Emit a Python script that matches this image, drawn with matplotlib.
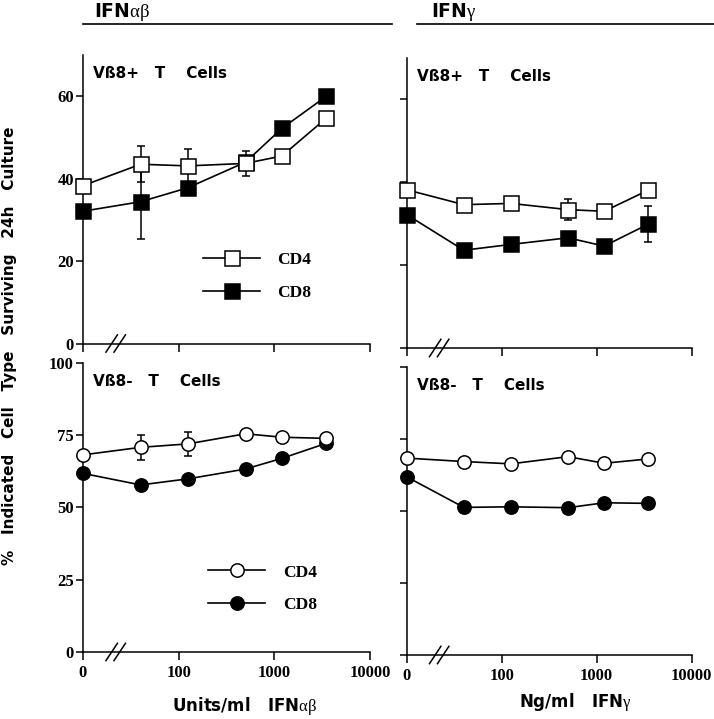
import numpy as np
import matplotlib
matplotlib.use('Agg')
import matplotlib.pyplot as plt
from matplotlib.lines import Line2D
from matplotlib.ticker import NullLocator

# doses (0 = no IFN, drawn at the left end of the log axis)
dose=[0,40,125,500,1200,3500]
xtick_vals=[10,100,1000,10000]
xtick_labels=['0','100','1000','10000']

# IFN ab, Vb8+ (% surviving)
ab_pos_cd4=[38.3,43.5,43.1,43.7,45.5,54.7]
ab_pos_cd4_err=[0,4.4,4.0,3.0,0,0]
ab_pos_cd8=[32.1,34.4,37.8,44.0,52.2,60.0]
ab_pos_cd8_err=[0,9.1,0,0,0,0]
# IFN g, Vb8+
g_pos_cd4=[38.2,34.6,34.9,33.4,33.0,38.1]
g_pos_cd4_err=[0,0,0,2.5,0,0]
g_pos_cd8=[32.2,23.6,25.0,26.6,24.6,29.9]
g_pos_cd8_err=[0,0,0,0,0,4.3]
# IFN ab, Vb8-
ab_neg_cd4=[68.2,70.8,72.0,75.5,74.3,73.9]
ab_neg_cd4_err=[0,4.3,4.2,0,0,0]
ab_neg_cd8=[61.8,57.8,59.9,63.3,67.0,72.2]
ab_neg_cd8_err=[0,0,0,0,0,0]
# IFN g, Vb8-
g_neg_cd4=[68.3,67.1,66.3,68.8,66.5,68.0]
g_neg_cd4_err=[0,0,0,0,0,0]
g_neg_cd8=[61.8,51.2,51.4,51.1,52.8,52.6]
g_neg_cd8_err=[0,0,0,0,0,0]

plt.rcParams['mathtext.fontset']='custom'
plt.rcParams['mathtext.rm']='Liberation Serif'
plt.rcParams['mathtext.it']='Liberation Serif:italic'
plt.rcParams['mathtext.bf']='Liberation Serif:bold'

SANS='DejaVu Sans'
SERIF='Liberation Serif'
x=np.where(np.array(dose)==0,10,dose)

fig=plt.figure(figsize=(7.14,7.19),dpi=100)
ax_tl=fig.add_axes([0.1162,0.5222,0.402,0.4013])
ax_tr=fig.add_axes([0.5696,0.516,0.399,0.4033])
ax_bl=fig.add_axes([0.1162,0.0932,0.402,0.402])
ax_br=fig.add_axes([0.5696,0.089,0.399,0.401])

def panel(ax,cd4,cd4e,cd8,cd8e,mk,ms,ymax,yticks,title,ylab,xlab,leg=None):
    for y,e,fc,z in ((cd8,cd8e,'k',3),(cd4,cd4e,'white',4)):
        c=ax.errorbar(x,y,yerr=e,fmt='-'+mk,color='k',mfc=fc,mec='k',ms=ms,mew=1.1,
                      lw=1.2,elinewidth=1.1,capsize=3,capthick=1.1,zorder=z)
        for a in c.get_children():
            a.set_clip_on(False)
    ax.set_xscale('log')
    ax.set_xlim(10,10000)
    ax.set_ylim(0,ymax)
    ax.set_xticks(xtick_vals)
    ax.xaxis.set_minor_locator(NullLocator())
    ax.set_yticks(yticks)
    if xlab:
        ax.set_xticklabels(xtick_labels,fontfamily=SERIF,fontweight='bold',fontsize=12)
    else:
        ax.set_xticklabels([])
    if ylab:
        ax.set_yticklabels([str(v) for v in yticks],fontfamily=SERIF,fontweight='bold',fontsize=12)
    else:
        ax.set_yticklabels([])
    ax.tick_params(axis='y',direction='out',length=5,width=1.1,pad=1.5)
    ax.tick_params(axis='x',direction='out',length=5.5,width=1.1,pad=4)
    for s in ('top','right'):
        ax.spines[s].set_visible(False)
    for s in ('left','bottom'):
        ax.spines[s].set_linewidth(1.1)
    ax.text(0.035,0.935,title,transform=ax.transAxes,fontfamily=SANS,fontweight='bold',
            fontsize=11,va='center',ha='left')
    # axis break marks
    for xb in (0.1,0.128):
        ax.plot([xb-0.02,xb+0.02],[-0.03,0.03],transform=ax.transAxes,color='k',lw=1.1,clip_on=False)
    if leg:
        h=[Line2D([],[],color='k',marker=mk,mfc='white',mec='k',ms=ms,mew=1.1,lw=1.2),
           Line2D([],[],color='k',marker=mk,mfc='k',mec='k',ms=ms,mew=1.1,lw=1.2)]
        ax.legend(h,['CD4','CD8'],loc='upper left',bbox_to_anchor=leg,frameon=False,
                  borderpad=0,borderaxespad=0,handlelength=3.3,handletextpad=1.0,
                  labelspacing=0.95,prop={'family':SERIF,'weight':'bold','size':12.5})

panel(ax_tl,ab_pos_cd4,ab_pos_cd4_err,ab_pos_cd8,ab_pos_cd8_err,'s',10.8,70,[0,20,40,60],
      'V\u00df8+   T    Cells',True,False,leg=(0.418,0.317))
panel(ax_tr,g_pos_cd4,g_pos_cd4_err,g_pos_cd8,g_pos_cd8_err,'s',10.8,70,[0,20,40,60],
      'V\u00df8+   T    Cells',False,False)
panel(ax_bl,ab_neg_cd4,ab_neg_cd4_err,ab_neg_cd8,ab_neg_cd8_err,'o',9.6,100,[0,25,50,75,100],
      'V\u00df8-   T    Cells',True,True,leg=(0.436,0.303))
panel(ax_br,g_neg_cd4,g_neg_cd4_err,g_neg_cd8,g_neg_cd8_err,'o',9.6,100,[0,25,50,75,100],
      'V\u00df8-   T    Cells',False,True)

# headers
fig.add_artist(Line2D([83/714,392/714],[1-24/719]*2,color='k',lw=1.2))
fig.add_artist(Line2D([417/714,1.0],[1-24/719]*2,color='k',lw=1.2))
fig.text(94/714,1-12/719,r'IFN$\mathrm{\alpha\beta}$',fontfamily=SANS,fontweight='bold',fontsize=13.5,va='center')
fig.text(431/714,1-12/719,r'IFN$\mathrm{\gamma}$',fontfamily=SANS,fontweight='bold',fontsize=13.5,va='center')

# axis labels
fig.text(245/714,1-706/719,r'Units/ml   IFN$\mathrm{\alpha\beta}$',fontfamily=SANS,fontweight='bold',
         fontsize=12,ha='center',va='center')
fig.text(575/714,1-702/719,r'Ng/ml   IFN$\mathrm{\gamma}$',fontfamily=SANS,fontweight='bold',
         fontsize=12,ha='center',va='center')
fig.text(10/714,1-346/719,'%   Indicated   Cell   Type   Surviving   24h   Culture',fontfamily=SANS,
         fontweight='bold',fontsize=11,rotation=90,ha='center',va='center')

fig.savefig('out.png',dpi=100)
